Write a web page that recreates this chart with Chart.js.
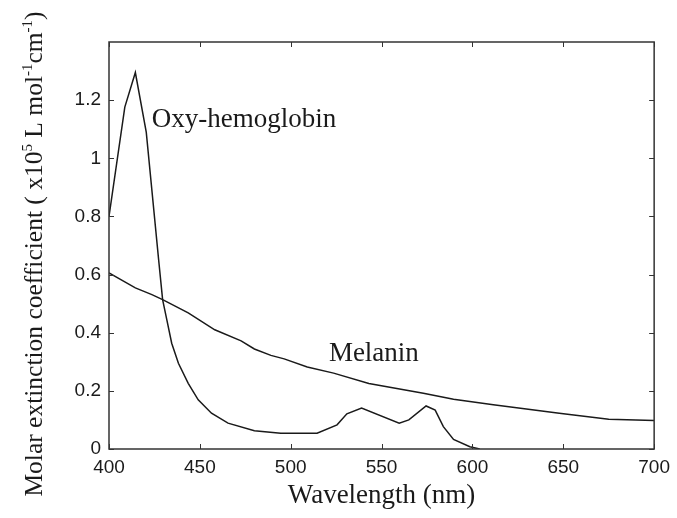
<!DOCTYPE html>
<html>
<head>
<meta charset="utf-8">
<script src="https://cdn.jsdelivr.net/npm/chart.js@4/dist/chart.umd.min.js"></script>
<style>
  html, body { margin: 0; padding: 0; background: #fff; }
  #wrap { width: 677px; height: 518px; }
</style>
</head>
<body>
<div id="wrap"><canvas id="c" width="677" height="518"></canvas></div>
<script>
// Wavelength (nm) samples
const oxyWavelength = [400, 408.7, 414.5, 420.5, 427.3, 429.5, 431.8, 434.5, 438.2, 443.6, 449.1, 456.4, 465.5, 480, 494.5, 514.5, 525.5, 530.9, 539, 559.7, 565, 574.5, 579.5, 584, 589.6, 598.6, 604];
const oxyValues     = [0.80, 1.176, 1.295, 1.09, 0.652, 0.514, 0.445, 0.364, 0.295, 0.226, 0.169, 0.123, 0.089, 0.063, 0.054, 0.054, 0.083, 0.121, 0.141, 0.089, 0.10, 0.148, 0.134, 0.077, 0.033, 0.008, 0.0];

const melWavelength = [400, 414.5, 423.6, 429.5, 443.6, 458.2, 472.7, 480, 489.1, 496.4, 509.1, 523.6, 543, 573, 589.6, 611.5, 647.8, 675, 700];
const melValues     = [0.606, 0.554, 0.531, 0.514, 0.468, 0.41, 0.372, 0.344, 0.322, 0.31, 0.282, 0.261, 0.225, 0.192, 0.171, 0.152, 0.123, 0.102, 0.098];

const xTicks = [400, 450, 500, 550, 600, 650, 700];
const yTicks = [0, 0.2, 0.4, 0.6, 0.8, 1, 1.2];

const seriesNames = ['Oxy-hemoglobin', 'Melanin'];
// label anchor points in data units (wavelength, value)
const labelAnchors = [[423.5, 1.107], [521, 0.301]];

const xTitle = 'Wavelength (nm)';
// y title pieces: [text, isSuperscript]
const yTitleParts = [['Molar extinction coefficient ( x10', false], ['5', true], [' L mol', false], ['-1', true], ['cm', false], ['-1', true], [')', false]];

function toPoints(xs, ys) { return xs.map((x, i) => ({ x: x, y: ys[i] })); }

const ink = '#1a1a1a';
const serif = '"Liberation Serif", "Times New Roman", serif';

const decor = {
  id: 'decor',
  afterDatasetsDraw(chart) {
    const { ctx, chartArea: a, scales: { x, y } } = chart;
    ctx.save();
    // frame
    ctx.strokeStyle = '#333';
    ctx.lineWidth = 1.5;
    ctx.strokeRect(a.left, a.top, a.right - a.left, a.bottom - a.top);
    // inward ticks
    ctx.lineWidth = 1;
    const tl = 5;
    xTicks.forEach(v => {
      const px = Math.round(x.getPixelForValue(v)) + 0.5;
      ctx.beginPath();
      ctx.moveTo(px, a.bottom); ctx.lineTo(px, a.bottom - tl);
      ctx.moveTo(px, a.top); ctx.lineTo(px, a.top + tl);
      ctx.stroke();
    });
    yTicks.forEach(v => {
      const py = Math.round(y.getPixelForValue(v)) + 0.5;
      ctx.beginPath();
      ctx.moveTo(a.left, py); ctx.lineTo(a.left + tl, py);
      ctx.moveTo(a.right, py); ctx.lineTo(a.right - tl, py);
      ctx.stroke();
    });
    // series labels
    ctx.fillStyle = ink;
    ctx.font = '27px ' + serif;
    ctx.textBaseline = 'alphabetic';
    ctx.textAlign = 'left';
    seriesNames.forEach((name, i) => {
      const [lx, ly] = labelAnchors[i];
      ctx.fillText(name, x.getPixelForValue(lx), y.getPixelForValue(ly));
    });
    // y axis title with superscripts, rotated
    const mainFont = '25.5px ' + serif, supFont = '15px ' + serif;
    let total = 0;
    const widths = yTitleParts.map(([t, sup]) => { ctx.font = sup ? supFont : mainFont; const w = ctx.measureText(t).width; total += w; return w; });
    ctx.translate(42, 254);
    ctx.rotate(-Math.PI / 2);
    let cx = -total / 2;
    yTitleParts.forEach(([t, sup], i) => {
      ctx.font = sup ? supFont : mainFont;
      ctx.fillText(t, cx, sup ? -10 : 0);
      cx += widths[i];
    });
    ctx.restore();
  }
};

new Chart(document.getElementById('c'), {
  type: 'line',
  data: {
    datasets: [
      { label: seriesNames[0], data: toPoints(oxyWavelength, oxyValues), borderColor: ink, borderWidth: 1.5, pointRadius: 0, tension: 0, fill: false },
      { label: seriesNames[1], data: toPoints(melWavelength, melValues), borderColor: ink, borderWidth: 1.5, pointRadius: 0, tension: 0, fill: false }
    ]
  },
  options: {
    responsive: false,
    animation: false,
    layout: { padding: { top: 42, right: 18, left: 0, bottom: 0 } },
    plugins: { legend: { display: false }, tooltip: { enabled: false } },
    scales: {
      x: {
        type: 'linear', min: 400, max: 700,
        afterBuildTicks(s) { s.ticks = xTicks.map(v => ({ value: v })); },
        afterFit(s) { s.height = 69; },
        grid: { display: false, drawTicks: false },
        border: { display: false },
        ticks: { color: ink, padding: 7, font: { family: '"Liberation Sans", Arial, sans-serif', size: 19 } },
        title: { display: true, text: xTitle, color: ink, padding: { top: 0, bottom: 6 }, font: { family: serif, size: 27 } }
      },
      y: {
        type: 'linear', min: 0, max: 1.4,
        afterBuildTicks(s) { s.ticks = yTicks.map(v => ({ value: v })); },
        afterFit(s) { s.width = 109; },
        grid: { display: false, drawTicks: false },
        border: { display: false },
        ticks: { color: ink, padding: 8, font: { family: '"Liberation Sans", Arial, sans-serif', size: 19 }, callback: v => String(v) },
        title: { display: false }
      }
    }
  },
  plugins: [decor]
});
</script>
</body>
</html>
